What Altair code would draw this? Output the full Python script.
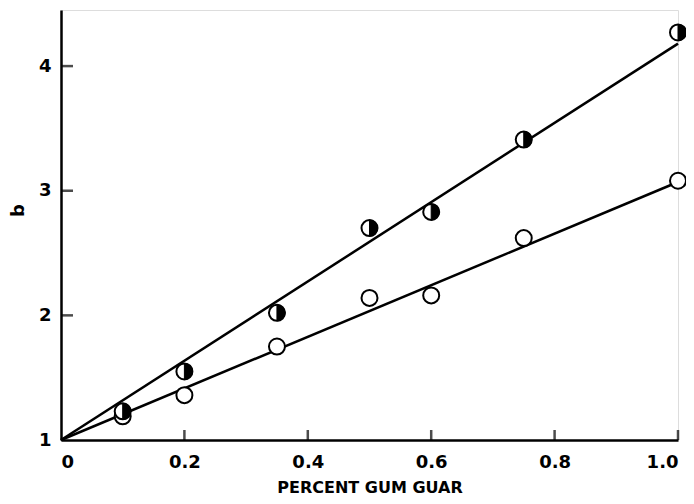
import altair as alt
import pandas as pd

# data
conc = [0.1, 0.2, 0.35, 0.5, 0.6, 0.75, 1.0]
b_half = [1.23, 1.55, 2.02, 2.70, 2.83, 3.41, 4.27]
b_open = [1.19, 1.36, 1.75, 2.14, 2.16, 2.62, 3.08]
fit_x = [0.0, 1.0]
fit_half = [1.0, 4.18]
fit_open = [1.0, 3.07]
x_ticks = [0.2, 0.4, 0.6, 0.8, 1.0]
y_ticks = [2, 3, 4]

pts = pd.DataFrame({"x": conc, "half": b_half, "open": b_open})
fits = pd.DataFrame({"x": fit_x, "half": fit_half, "open": fit_open})
xt = pd.DataFrame({"v": x_ticks})
yt = pd.DataFrame({"v": y_ticks})

FONT = "DejaVu Sans"
CIRCLE = "M0,-1A1,1 0 1,1 0,1A1,1 0 1,1 0,-1Z"
HALF = "M0,-1A1,1 0 0,1 0,1Z"

xscale = alt.Scale(domain=[0, 1.0], nice=False, zero=False)
yscale = alt.Scale(domain=[1, 4.45], nice=False, zero=False)

xax = alt.Axis(values=[0, 0.2, 0.4, 0.6, 0.8, 1.0], grid=False, ticks=False,
               labelExpr="datum.value == 0 ? '0' : format(datum.value, '.1f')",
               labelFont=FONT, labelFontSize=18, labelFontWeight="bold", labelColor="black",
               labelPadding=13, domainColor="black", domainWidth=2.5,
               title="PERCENT GUM GUAR", titleFont=FONT, titleFontSize=16,
               titleFontWeight="bold", titleColor="black",
               titleBaseline="alphabetic", titleY=52)
yax = alt.Axis(values=[1, 2, 3, 4], grid=False, ticks=False, format="d",
               labelFont=FONT, labelFontSize=18, labelFontWeight="bold", labelColor="black",
               labelPadding=10, domainColor="black", domainWidth=2.5,
               title="b", titleFont=FONT, titleFontSize=18, titleFontWeight="bold",
               titleColor="black", titlePadding=11, titleY=200)

base = alt.Chart(fits)
line_half = base.mark_line(color="black", strokeWidth=2.5).encode(
    x=alt.X("x:Q", scale=xscale, axis=xax),
    y=alt.Y("half:Q", scale=yscale, axis=yax))
line_open = base.mark_line(color="black", strokeWidth=2.5).encode(
    x=alt.X("x:Q", scale=xscale), y=alt.Y("open:Q", scale=yscale))

pbase = alt.Chart(pts)
open_pts = pbase.mark_point(shape=CIRCLE, size=256, filled=True, fill="white",
                            stroke="black", strokeWidth=2, opacity=1).encode(
    x=alt.X("x:Q", scale=xscale), y=alt.Y("open:Q", scale=yscale))
half_bg = pbase.mark_point(shape=CIRCLE, size=256, filled=True, fill="white",
                           stroke="black", strokeWidth=2, opacity=1).encode(
    x=alt.X("x:Q", scale=xscale), y=alt.Y("half:Q", scale=yscale))
half_fg = pbase.mark_point(shape=HALF, size=256, filled=True, fill="black",
                           stroke="black", strokeWidth=1, opacity=1).encode(
    x=alt.X("x:Q", scale=xscale), y=alt.Y("half:Q", scale=yscale))

xticks = alt.Chart(xt).mark_tick(orient="vertical", color="black", size=10,
                                 thickness=2.5, yOffset=-5).encode(
    x=alt.X("v:Q", scale=xscale), y=alt.datum(1, scale=yscale))
yticks = alt.Chart(yt).mark_tick(orient="horizontal", color="black", size=12,
                                 thickness=2.5, xOffset=6).encode(
    y=alt.Y("v:Q", scale=yscale), x=alt.datum(0, scale=xscale))

chart = alt.layer(line_half, line_open, xticks, yticks, open_pts, half_bg, half_fg).properties(
    width=617, height=430,
    autosize=alt.AutoSizeParams(type="none"),
    padding={"left": 53, "top": 2, "right": 8, "bottom": 56},
).configure_view(stroke=None).configure(background="white")

chart.save("out.html", embed_options={"renderer": "svg", "actions": False})
